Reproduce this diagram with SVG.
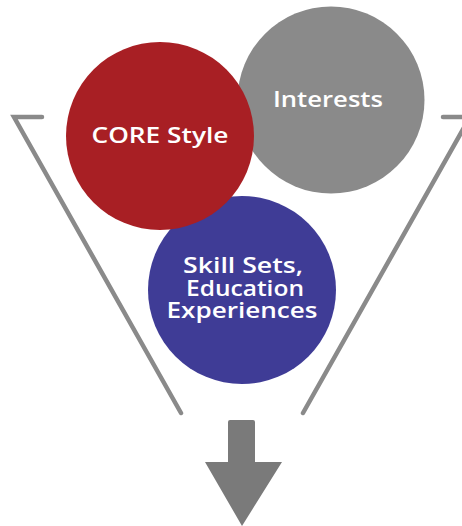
<svg xmlns="http://www.w3.org/2000/svg" width="462" height="526" viewBox="0 0 462 526">
<style>
.lbl{font-family:"Open Sans","Liberation Sans",sans-serif;font-weight:600;font-size:21px;fill:#ffffff;text-anchor:middle}
.fun{fill:none;stroke:#8a8a8a;stroke-width:4.5;stroke-linecap:round;stroke-linejoin:miter}
</style>
<rect width="462" height="526" fill="#ffffff"/>
<g id="funnel">
<polyline class="fun" points="42,117 14,117 181,413"/>
<polyline class="fun" points="443,117 470,117 303,413"/>
</g>
<g id="interests">
<circle cx="331" cy="100" r="93.5" fill="#8a8a8a"/>
<text class="lbl" x="328" y="107" textLength="110" lengthAdjust="spacingAndGlyphs">Interests</text>
</g>
<g id="skills">
<circle cx="242" cy="290" r="94" fill="#3f3c96"/>
<text class="lbl" x="243" y="273" textLength="120" lengthAdjust="spacingAndGlyphs">Skill Sets,</text>
<text class="lbl" x="245" y="296" textLength="118" lengthAdjust="spacingAndGlyphs">Education</text>
<text class="lbl" x="242" y="318" textLength="151" lengthAdjust="spacingAndGlyphs">Experiences</text>
</g>
<g id="core">
<circle cx="160" cy="136" r="94" fill="#a81f24"/>
<text class="lbl" x="160" y="143" textLength="137" lengthAdjust="spacingAndGlyphs">CORE Style</text>
</g>
<g id="arrow">
<path d="M230,420 H253 Q255,420 255,422 V462 H282 L242,526 L205,462 H228 V422 Q228,420 230,420 Z" fill="#7a7a7a"/>
</g>
</svg>
